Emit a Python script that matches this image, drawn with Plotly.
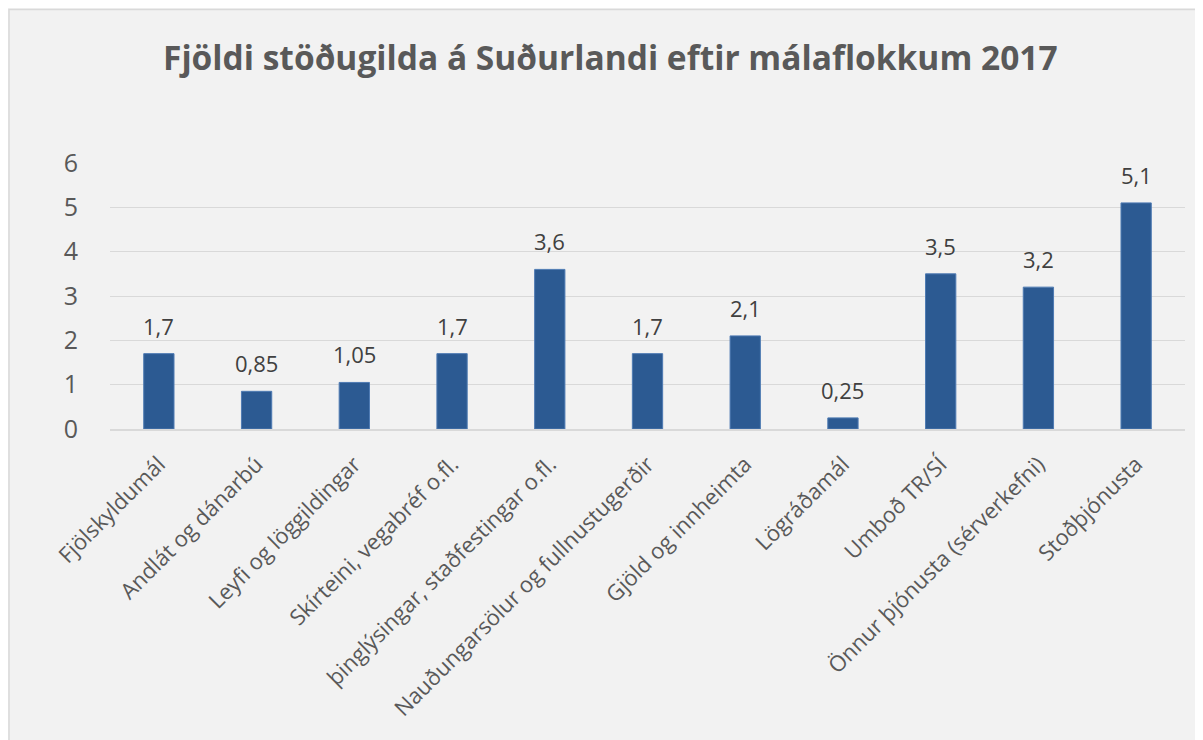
import plotly.graph_objects as go

categories = [
    "Fjölskyldumál",
    "Andlát og dánarbú",
    "Leyfi og löggildingar",
    "Skírteini, vegabréf o.fl.",
    "þinglýsingar, staðfestingar o.fl.",
    "Nauðungarsölur og fullnustugerðir",
    "Gjöld og innheimta",
    "Lögráðamál",
    "Umboð TR/SÍ",
    "Önnur þjónusta (sérverkefni)",
    "Stoðþjónusta",
]
values = [1.7, 0.85, 1.05, 1.7, 3.6, 1.7, 2.1, 0.25, 3.5, 3.2, 5.1]
y_ticks = [0, 1, 2, 3, 4, 5, 6]
title_text = "Fjöldi stöðugilda á Suðurlandi eftir málaflokkum 2017"

FONT = "Open Sans"
W, H = 1203, 740
L, R, T, B = 102, 26, 155, 319
pw = W - L - R
ph = H - T - B

def px_to_paper_x(p):
    return (p - L) / pw

def px_to_paper_y(p):
    return (H - B - p) / ph

fig = go.Figure()
fig.add_trace(go.Bar(
    x=categories,
    y=values,
    marker=dict(color="#2C5A92", line=dict(color="#4F7BB3", width=1)),
    hoverinfo="skip",
    showlegend=False,
))

annotations = []
for c, v in zip(categories, values):
    annotations.append(dict(
        x=c, y=v, xref="x", yref="y",
        text=str(v).replace(".", ","),
        showarrow=False, yanchor="bottom", yshift=11,
        font=dict(family=FONT, size=22, color="#404040"),
    ))

annotations.append(dict(
    x=px_to_paper_x(602), y=px_to_paper_y(49), xref="paper", yref="paper",
    text="<b>" + title_text + "</b>", showarrow=False,
    xanchor="center", yanchor="middle",
    font=dict(family=FONT, size=33.5, color="#595959"),
))

fig.update_layout(
    width=W, height=H,
    margin=dict(l=L, r=R, t=T, b=B, autoexpand=False),
    paper_bgcolor="#F2F2F2",
    plot_bgcolor="rgba(0,0,0,0)",
    bargap=0.69,
    annotations=annotations,
    shapes=[dict(
        type="rect", xref="paper", yref="paper", layer="below",
        x0=px_to_paper_x(1), x1=px_to_paper_x(1260),
        y0=px_to_paper_y(800), y1=px_to_paper_y(1.5),
        fillcolor="#F2F2F2", line=dict(color="#D9D9D9", width=1.5),
    )],
    xaxis=dict(
        type="category",
        tickangle=-45,
        tickfont=dict(family=FONT, size=22, color="#595959"),
        showgrid=False,
        showline=True, linecolor="#D9D9D9", linewidth=1.5,
        ticks="", ticklabelstandoff=12,
        fixedrange=True,
    ),
    yaxis=dict(
        range=[0, 6],
        tickvals=y_ticks,
        tickfont=dict(family=FONT, size=25, color="#595959"),
        showgrid=True, gridcolor="#D9D9D9", gridwidth=1,
        zeroline=False, showline=False,
        ticks="", ticklabelstandoff=31,
        fixedrange=True,
    ),
)

fig.write_html("out.html")
